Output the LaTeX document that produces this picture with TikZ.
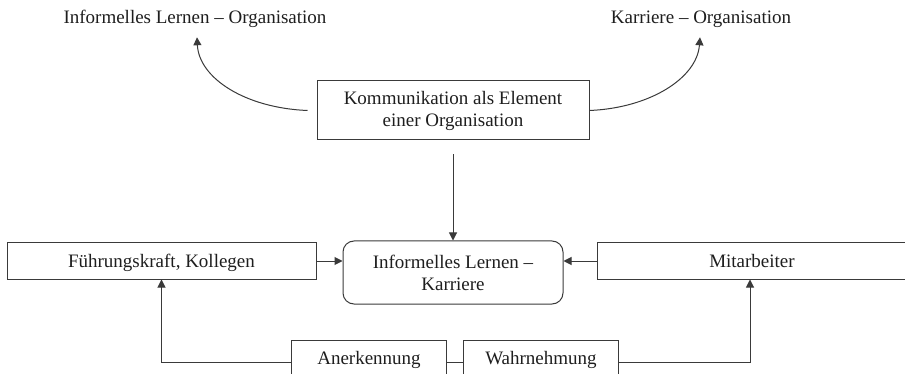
\documentclass[tikz,border=0pt]{standalone}
\usepackage{fontspec}
\setmainfont{Liberation Serif}
\usetikzlibrary{arrows.meta,calc}
\definecolor{ln}{HTML}{3A3A3A}
\definecolor{tx}{HTML}{1E1E1E}
\begin{document}
\begin{tikzpicture}[x=1pt,y=-1pt,
  every node/.style={font=\fontsize{19}{22}\selectfont, text=tx, inner sep=0pt},
  box/.style={draw=ln, line width=1pt, minimum height=36pt, text height=12.6pt, text depth=0pt},
  openbox/.style={minimum height=42pt, text height=12.6pt, text depth=8pt},
  twoline/.style={draw=ln, line width=1pt, align=center},
  lbl/.style={anchor=base},
  wire/.style={draw=ln, line width=1pt},
  arr/.style={wire, -{Triangle[length=8pt,width=8pt]}}]
\useasboundingbox (0,0) rectangle (905,374);
\coordinate (B) at (0,374);
\coordinate (R) at (905,0);

% top labels
\node[lbl] (LO) at (195,24) {Informelles Lernen – Organisation};
\node[lbl] (KO) at (701,24) {Karriere – Organisation};

% communication box
\node[twoline, minimum width=272pt, minimum height=59pt] (KOM) at (453,110.5)
  {Kommunikation als Element\\einer Organisation};

% middle row
\node[box, minimum width=309pt] (FK) at (161.5,261) {Führungskraft, Kollegen};
\node[twoline, rounded corners=11pt, minimum width=220pt, minimum height=63pt] (IL) at (453,272.5)
  {Informelles Lernen –\\Karriere};
\node[box, draw=none, minimum width=308pt] (MA) at (752,261) {Mitarbeiter};
\draw[wire] (MA.north -| R) -- (MA.north west) -- (MA.south west) -- (MA.south -| R);

% bottom row (cut at the lower edge)
\node[openbox, minimum width=154pt] (AN) at (369,362) {Anerkennung};
\node[openbox, minimum width=154pt] (WA) at (541,362) {Wahrnehmung};
\draw[wire] (AN.west |- B) -- (AN.north west) -- (AN.north east) -- (AN.east |- B);
\draw[wire] (WA.west |- B) -- (WA.north west) -- (WA.north east) -- (WA.east |- B);

% connectors
\draw[arr] ([xshift=-9pt]KOM.west) .. controls (245,108) and (199,78) .. ([xshift=2pt,yshift=-9pt]LO.south);
\draw[arr] (KOM.east) .. controls (650,108) and (697,78) .. ([xshift=-1pt,yshift=-9pt]KO.south);
\draw[arr] ([yshift=-14pt]KOM.south) -- (IL.north);
\draw[arr] (FK.east) -- (FK.east -| IL.west);
\draw[arr] (MA.west) -- (MA.west -| IL.east);
\draw[wire] (AN.east) -- (WA.west);
\draw[arr] (AN.west) -| (FK.south);
\draw[arr] (WA.east) -| ([xshift=-2pt]MA.south);
\end{tikzpicture}
\end{document}
